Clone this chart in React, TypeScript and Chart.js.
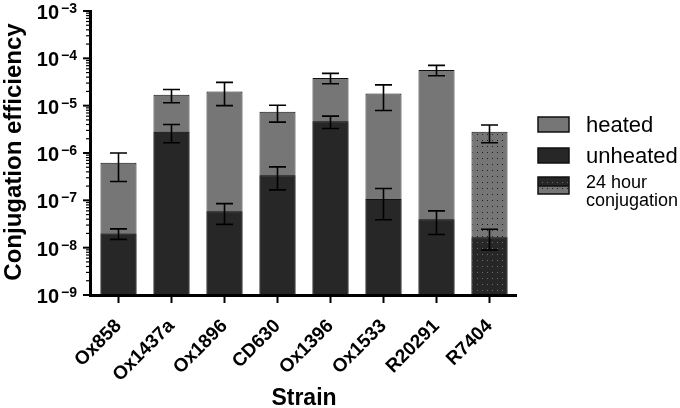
import React, { useEffect, useRef } from 'react';
import { Chart, registerables } from 'chart.js';

Chart.register(...registerables);

const categories = ['Ox858', 'Ox1437a', 'Ox1896', 'CD630', 'Ox1396', 'Ox1533', 'R20291', 'R7404'];
const heated = [6.2e-7, 1.7e-5, 2.0e-5, 7.4e-6, 3.85e-5, 1.8e-5, 5.7e-5, 2.8e-6];
const heatedErrHigh = [1.0e-6, 2.2e-5, 3.1e-5, 1.02e-5, 4.8e-5, 2.75e-5, 7.1e-5, 3.9e-6];
const heatedErrLow = [2.5e-7, 1.15e-5, 1.0e-5, 4.5e-6, 2.9e-5, 7.9e-6, 4.3e-5, 1.65e-6];
const unheated = [2.0e-8, 2.8e-6, 5.9e-8, 3.4e-7, 4.7e-6, 1.07e-7, 4.0e-8, 1.66e-8];
const unheatedErrHigh = [2.5e-8, 4.0e-6, 8.5e-8, 5.1e-7, 6.0e-6, 1.78e-7, 6.0e-8, 2.45e-8];
const unheatedErrLow = [1.5e-8, 1.65e-6, 3.1e-8, 1.66e-7, 3.3e-6, 3.9e-8, 1.9e-8, 8.9e-9];
const patternedIndex = 7; // 24 hour conjugation
const yDecades = [-9, -8, -7, -6, -5, -4, -3];
const legendLabels = ['heated', 'unheated', '24 hour', 'conjugation'];
const yTitle = 'Conjugation efficiency';
const xTitle = 'Strain';

const FONT = '"Liberation Sans", Arial, Helvetica, sans-serif';
const HEATED = '#767676';
const UNHEATED = '#272727';

function makeDots(bg: string, dot: string): CanvasPattern | string {
  const c = document.createElement('canvas');
  c.width = 5;
  c.height = 6;
  const x = c.getContext('2d');
  if (!x) return bg;
  x.fillStyle = bg;
  x.fillRect(0, 0, 5, 6);
  x.fillStyle = dot;
  x.fillRect(2, 2, 1, 1);
  return x.createPattern(c, 'repeat') || bg;
}

export default function App() {
  const ref = useRef<HTMLCanvasElement | null>(null);

  useEffect(() => {
    if (!ref.current) return;
    const heatedPat = makeDots(HEATED, '#1e1e1e');
    const unheatedPat = makeDots(UNHEATED, '#6a6a6a');

    const errs: Record<number, [number[], number[]]> = {
      0: [unheatedErrLow, unheatedErrHigh],
      1: [heatedErrLow, heatedErrHigh],
    };

    const decor = {
      id: 'decor',
      afterDatasetsDraw(chart: any) {
        const ctx = chart.ctx as CanvasRenderingContext2D;
        const y = chart.scales.y;
        ctx.save();
        ctx.strokeStyle = '#000';
        ctx.lineWidth = 1.6;
        [1, 0].forEach((di) => {
          const meta = chart.getDatasetMeta(di);
          const [lo, hi] = errs[di];
          meta.data.forEach((el: any, j: number) => {
            const x = el.x;
            const yh = y.getPixelForValue(hi[j]);
            const yl = y.getPixelForValue(lo[j]);
            ctx.beginPath();
            ctx.moveTo(x, yh);
            ctx.lineTo(x, yl);
            ctx.moveTo(x - 8.5, yh);
            ctx.lineTo(x + 8.5, yh);
            ctx.moveTo(x - 8.5, yl);
            ctx.lineTo(x + 8.5, yl);
            ctx.stroke();
          });
        });
        ctx.restore();
      },
      afterDraw(chart: any) {
        const ctx = chart.ctx as CanvasRenderingContext2D;
        const { left, right, top, bottom } = chart.chartArea;
        const y = chart.scales.y;
        const xs = chart.scales.x;
        ctx.save();
        ctx.strokeStyle = '#000';
        ctx.fillStyle = '#000';
        // axes
        ctx.lineWidth = 3;
        ctx.beginPath();
        ctx.moveTo(left - 1.5, top - 1);
        ctx.lineTo(left - 1.5, bottom + 1.5);
        ctx.moveTo(left - 3, bottom + 0.5);
        ctx.lineTo(right + 1, bottom + 0.5);
        ctx.stroke();
        // y ticks
        yDecades.forEach((d) => {
          const py = y.getPixelForValue(Math.pow(10, d));
          ctx.lineWidth = 2;
          ctx.beginPath();
          ctx.moveTo(left - 9, py);
          ctx.lineTo(left - 1, py);
          ctx.stroke();
          if (d < -3) {
            ctx.lineWidth = 1.2;
            for (let k = 2; k <= 9; k++) {
              const pm = y.getPixelForValue(k * Math.pow(10, d));
              ctx.beginPath();
              ctx.moveTo(left - 6, pm);
              ctx.lineTo(left - 1, pm);
              ctx.stroke();
            }
          }
          // label 10^d
          ctx.textAlign = 'right';
          ctx.textBaseline = 'alphabetic';
          ctx.font = `bold 20px ${FONT}`;
          ctx.fillText('10', 59, py + 8);
          ctx.textAlign = 'left';
          ctx.font = `bold 14px ${FONT}`;
          ctx.fillText('\u2212' + String(-d), 61, py + 2);
        });
        // x tick marks
        ctx.lineWidth = 2;
        categories.forEach((_, j) => {
          const px = xs.getPixelForValue(j);
          ctx.beginPath();
          ctx.moveTo(px, bottom + 1);
          ctx.lineTo(px, bottom + 8);
          ctx.stroke();
        });
        // titles
        ctx.font = `bold 23px ${FONT}`;
        ctx.textAlign = 'center';
        ctx.textBaseline = 'alphabetic';
        ctx.fillText(xTitle, (left + right) / 2, 405);
        ctx.font = `bold 24px ${FONT}`;
        ctx.save();
        ctx.translate(21, 152);
        ctx.rotate(-Math.PI / 2);
        ctx.fillText(yTitle, 0, 0);
        ctx.restore();
        // legend
        const bx = 538, bw = 31;
        ctx.lineWidth = 1.5;
        ctx.strokeStyle = '#111';
        ctx.fillStyle = HEATED;
        ctx.fillRect(bx, 117, bw, 15);
        ctx.strokeRect(bx, 117, bw, 15);
        ctx.fillStyle = UNHEATED;
        ctx.fillRect(bx, 148, bw, 15);
        ctx.strokeRect(bx, 148, bw, 15);
        ctx.fillStyle = unheatedPat as any;
        ctx.fillRect(bx, 177, bw, 9);
        ctx.fillStyle = heatedPat as any;
        ctx.fillRect(bx, 186, bw, 8);
        ctx.strokeRect(bx, 177, bw, 17);
        ctx.beginPath();
        ctx.moveTo(bx, 186);
        ctx.lineTo(bx + bw, 186);
        ctx.stroke();
        ctx.fillStyle = '#000';
        ctx.textAlign = 'left';
        ctx.font = `22px ${FONT}`;
        ctx.fillText(legendLabels[0], 586, 132);
        ctx.fillText(legendLabels[1], 586, 163);
        ctx.font = `18px ${FONT}`;
        ctx.fillText(legendLabels[2], 586, 188);
        ctx.fillText(legendLabels[3], 586, 206);
        ctx.restore();
      },
    };

    const chart = new Chart(ref.current, {
      type: 'bar',
      data: {
        labels: categories,
        datasets: [
          {
            label: 'unheated',
            data: unheated,
            order: 1,
            backgroundColor: unheated.map((_, i) => (i === patternedIndex ? unheatedPat : UNHEATED)) as any,
            borderColor: '#111',
            borderWidth: 1,
            grouped: false,
            categoryPercentage: 1,
            barPercentage: 0.68,
          } as any,
          {
            label: 'heated',
            data: heated,
            order: 2,
            backgroundColor: heated.map((_, i) => (i === patternedIndex ? heatedPat : HEATED)) as any,
            borderColor: '#111',
            borderWidth: 1,
            grouped: false,
            categoryPercentage: 1,
            barPercentage: 0.68,
          } as any,
        ],
      },
      options: {
        animation: false,
        responsive: false,
        layout: { padding: { top: 11, right: 164, left: 0, bottom: 0 } },
        plugins: { legend: { display: false }, tooltip: { enabled: false } },
        scales: {
          x: {
            grid: { display: false },
            border: { display: false },
            ticks: {
              color: '#000',
              font: { family: FONT, size: 19, weight: 'bold' },
              minRotation: 45,
              maxRotation: 45,
              padding: 12,
              autoSkip: false,
            },
            afterFit(s: any) {
              s.height = 113;
            },
          },
          y: {
            type: 'logarithmic',
            min: 1e-9,
            max: 1e-3,
            grid: { display: false },
            border: { display: false },
            ticks: { display: false },
            afterFit(s: any) {
              s.width = 92;
            },
          },
        },
      },
      plugins: [decor],
    } as any);

    return () => chart.destroy();
  }, []);

  return (
    <div style={{ position: 'fixed', left: 0, top: 0, width: 680, height: 408, background: '#fff' }}>
      <canvas ref={ref} width={680} height={408} style={{ display: 'block' }} />
    </div>
  );
}
